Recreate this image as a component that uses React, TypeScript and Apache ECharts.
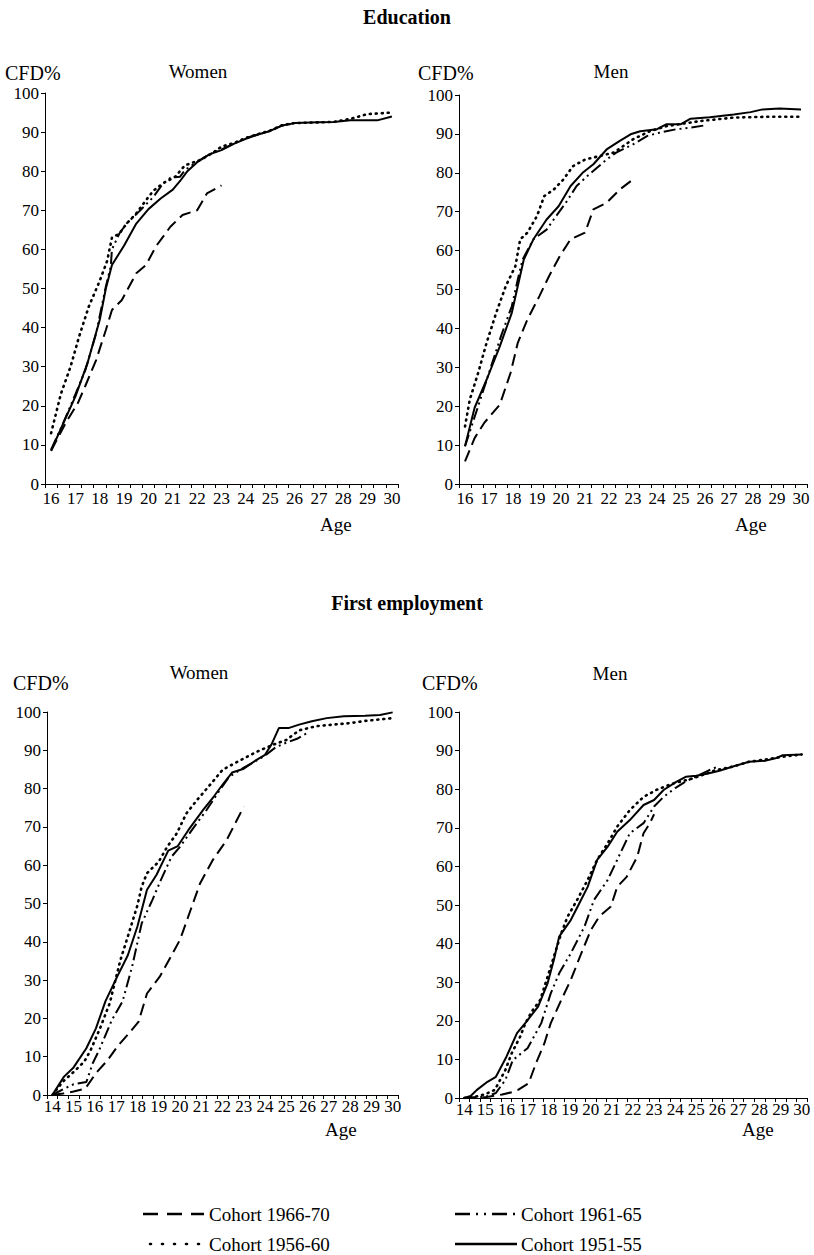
import React, { useEffect, useRef } from "react";
import * as echarts from "echarts";

type Pt = [number, number];

// Cohort names, in legend order
const COHORTS = ["Cohort 1966-70", "Cohort 1961-65", "Cohort 1956-60", "Cohort 1951-55"];

// Age ranges of the two x axes
const EDU_AGE_START = 16;
const EMP_AGE_START = 14;
const AGE_END = 30;

// Y axis (cumulative frequency distribution, %)
const Y_MIN = 0;
const Y_MAX = 100;
const Y_STEP = 10;

// ---- Education, women: [age, CFD %]
const eduWomen1966: Pt[] = [[16,8.5],[16.6,15.6],[17.1,20.7],[17.4,25],[17.85,31.7],[18.25,39.4],[18.5,44.5],[18.9,47],[19.5,53.9],[19.9,56],[20.3,60.7],[20.9,65.8],[21.4,68.8],[22,70],[22.4,74.3],[23,76.4]];
const eduWomen1961: Pt[] = [[16,8.8],[16.5,15.6],[17,23],[17.4,29],[17.85,38.5],[18.25,50.5],[18.45,55.6],[18.5,60],[18.8,64],[19.1,66.6],[19.6,69.6],[20.2,73.4],[20.6,76.9],[20.9,78.3],[21.3,78.6],[21.5,80.3],[22.1,82.8],[22.5,84.3],[23,85.6],[23.5,87],[24,88.5],[24.5,89.4],[25,90.3],[25.5,91.7],[26,92.2]];
const eduWomen1956: Pt[] = [[16,13],[16.4,23],[16.8,30],[17.15,37.7],[17.55,45.4],[18,52],[18.3,57],[18.5,63],[18.8,64],[19.1,66.6],[19.5,69.2],[19.9,72.6],[20.2,75],[20.6,76.9],[21.1,78.6],[21.5,81.5],[22.1,82.8],[22.6,84.5],[23,86.3],[23.5,87.2],[24,88.5],[24.5,89.5],[25,90.4],[25.5,91.8],[26,92.3],[27,92.5],[27.6,92.6],[28.3,93.4],[29,94.6],[30,95]];
const eduWomen1951: Pt[] = [[16,8.5],[16.5,15.5],[17,22.4],[17.5,31],[18,42],[18.25,50],[18.5,56],[19,61],[19.5,66.6],[20,70.3],[20.5,73],[21,75.3],[21.3,77.5],[21.6,80],[22,82.3],[22.5,84.3],[23,85.4],[23.5,87],[24,88.3],[24.5,89.4],[25,90.3],[25.5,91.7],[26,92.3],[27,92.5],[27.6,92.6],[28.3,93],[29.4,93],[30,94]];

// ---- Education, men
const eduMen1966: Pt[] = [[16,5.8],[16.4,11.8],[16.8,15.7],[17.45,20.4],[17.9,28.6],[18.2,36.3],[18.6,42.3],[19.1,48.3],[19.5,53.4],[19.95,58.6],[20.4,62.9],[21,64.6],[21.35,70.6],[21.9,72.3],[22.45,75.7],[23,78.3]];
const eduMen1961: Pt[] = [[16,9.7],[16.5,19.1],[17,28.6],[17.5,38],[17.95,45.7],[18.2,52.6],[18.4,57.7],[18.85,62.9],[19.4,65.4],[19.8,68.9],[20.2,72.3],[20.65,76.6],[21.1,79.2],[21.5,81.3],[21.9,83.4],[22.3,85.2],[23,87.3],[23.6,89.5],[24.1,90.3],[24.8,91.2],[25.4,91.6],[26,92.2]];
const eduMen1956: Pt[] = [[16,14.8],[16.2,21.7],[16.55,28.6],[16.9,36.3],[17.3,44],[17.7,50.9],[18.1,56],[18.3,62.9],[18.6,64.6],[19,68.9],[19.3,74],[19.7,75.7],[20.1,78.3],[20.5,81.7],[21,83.4],[21.6,84.3],[22.2,85.2],[23,88.6],[23.7,90.7],[24.4,92],[25.8,93.3],[27.2,94.2],[28.6,94.4],[30,94.4]];
const eduMen1951: Pt[] = [[16,9.7],[16.4,19.6],[16.9,26.8],[17.45,35.4],[17.95,44],[18.2,50.9],[18.45,57.7],[18.85,62.9],[19.4,68],[19.9,71.4],[20.4,76.6],[20.9,80],[21.35,82.2],[21.9,86],[22.45,88.2],[22.9,89.9],[23.3,90.7],[24,91.2],[24.4,92.5],[25,92.5],[25.4,93.9],[26.2,94.3],[27.2,95],[27.9,95.6],[28.4,96.3],[29.1,96.5],[30,96.3]];

// ---- First employment, women
const empWomen1966: Pt[] = [[14,0],[14.5,0.4],[15,0.9],[15.55,1.7],[16.05,5.7],[16.6,9.1],[17.05,12.6],[17.6,16.1],[18.05,19.1],[18.45,26.5],[19.05,30.9],[19.4,34.4],[20,40.5],[20.5,48.3],[20.95,55.3],[21.55,61.4],[22.2,66.6],[23,75.3]];
const empWomen1961: Pt[] = [[14,0],[14.5,1.5],[15,2.8],[15.6,3.4],[15.9,8.3],[16.2,11.7],[16.8,19.6],[17.3,24.4],[17.75,33.5],[18.2,44.8],[18.7,50.9],[19.1,56.1],[19.6,62.2],[20,64.8],[20.6,69.5],[21.25,74.4],[21.8,79],[22.3,83],[23,85.5],[23.5,87],[24,88.6],[24.5,90.8],[25,92],[25.5,93],[26,94.6]];
const empWomen1956: Pt[] = [[14,0],[14.5,3.5],[15,6],[15.5,8.7],[15.8,11.7],[16.25,17.5],[16.7,24],[17.2,35.2],[17.6,42.3],[18,49.5],[18.2,54.4],[18.45,57.9],[19,60.9],[19.4,64.8],[19.85,68.3],[20.3,73.5],[20.8,77],[21.6,82.2],[22,84.9],[22.7,87],[23.6,89.6],[24.4,91.5],[25,92.7],[25.6,95.2],[26.4,96.3],[27.2,96.7],[28,97.1],[28.75,97.7],[30,98.4]];
const empWomen1951: Pt[] = [[14,0],[14.55,4.8],[15,7.2],[15.6,12.2],[16.05,17.4],[16.5,24.5],[17.05,30.9],[17.55,36.5],[18,44],[18.45,53.6],[18.9,57.5],[19.45,63.8],[19.9,65],[20.4,69.2],[21.1,74.5],[21.6,78],[22,81],[22.45,84.2],[23,85.2],[23.6,87.5],[24,88.8],[24.3,91.5],[24.65,95.8],[25.1,95.8],[25.6,96.7],[26.2,97.6],[26.9,98.4],[27.7,98.9],[28.7,99],[29.4,99.2],[30,99.9]];

// ---- First employment, men
const empMen1966: Pt[] = [[14,0],[15,0.2],[15.8,0.9],[16.25,1.5],[16.55,2.1],[17.05,3.8],[17.4,9],[17.8,14.2],[18.1,19.4],[18.6,25.4],[19.05,30.6],[19.55,37.5],[20,43.5],[20.4,47],[20.95,49.6],[21.25,54.7],[21.7,57.3],[22.2,62.5],[22.5,68.6],[22.8,71.2],[23,73.5]];
const empMen1961: Pt[] = [[14,0],[15,0.3],[15.5,1.3],[15.95,4.7],[16.3,9.8],[17,12.9],[17.65,19.4],[18.1,27.1],[18.5,32.3],[19.05,37.5],[19.7,44.4],[20.15,51.3],[20.8,56.5],[21.25,61.7],[21.85,68.6],[22.5,71.2],[23,75.5],[23.45,78],[24,80.3],[24.5,82],[25.1,83.6],[25.6,84.9],[26,85.8]];
const empMen1956: Pt[] = [[14,0],[14.5,0.3],[15,1],[15.45,2.1],[15.95,7.3],[16.25,11.6],[16.65,15.9],[16.9,19.4],[17.2,22.4],[17.6,25.4],[17.95,31.4],[18.3,37.5],[18.6,42.7],[18.9,47],[19.35,51.3],[19.85,56.5],[20.3,61.7],[20.8,66],[21.25,70.3],[21.85,74.6],[22.5,78],[23.1,79.8],[23.9,81.5],[24.85,82.8],[25.9,84.9],[26.7,85.8],[27.5,87.1],[28.3,87.7],[29.1,88.4],[30,89]];
const empMen1951: Pt[] = [[14,0],[14.3,0.5],[14.6,2.1],[15.1,4.2],[15.5,5.5],[16,10.7],[16.5,16.8],[16.95,19.8],[17.5,23.7],[17.95,29.7],[18.25,35.8],[18.5,41.8],[19.05,46.1],[19.45,50.4],[19.85,54.7],[20.3,61.7],[20.8,65.1],[21.25,69],[21.85,72],[22.5,75.9],[23,77.2],[23.45,79.8],[24.05,81.9],[24.5,83.2],[25,83.5],[25.5,84],[26.1,84.8],[26.7,85.8],[27.5,87.1],[28.3,87.4],[28.75,88],[29.1,88.8],[30,89]];

const FONT = '"Liberation Serif", "Times New Roman", serif';
const INK = "#000";

// line pattern per cohort (same order as COHORTS)
const DASHES: (number[] | "solid")[] = [[12, 6], [12, 4, 2, 4, 2, 4], [1, 5], "solid"];
const WIDTHS = [2, 2, 2.6, 2];
const CAPS = ["butt", "butt", "round", "butt"];

type Panel = {
  start: number;
  labelMargin: number;
  grid: { left: number; top: number; width: number; height: number };
  series: Pt[][];
};

const PANELS: Panel[] = [
  { start: EDU_AGE_START, labelMargin: 6, grid: { left: 45, top: 93, width: 353, height: 391 }, series: [eduWomen1966, eduWomen1961, eduWomen1956, eduWomen1951] },
  { start: EDU_AGE_START, labelMargin: 6, grid: { left: 459, top: 95, width: 348, height: 389 }, series: [eduMen1966, eduMen1961, eduMen1956, eduMen1951] },
  { start: EMP_AGE_START, labelMargin: 3, grid: { left: 47, top: 712, width: 351, height: 383 }, series: [empWomen1966, empWomen1961, empWomen1956, empWomen1951] },
  { start: EMP_AGE_START, labelMargin: 3, grid: { left: 459, top: 712, width: 348, height: 386 }, series: [empMen1966, empMen1961, empMen1956, empMen1951] },
];

function halfYears(start: number): string[] {
  const out: string[] = [];
  for (let a = start; a <= AGE_END; a += 0.5) out.push(String(a));
  return out;
}

function text(x: number, y: number, t: string, size: number, align = "left", bold = false) {
  return {
    type: "text",
    x,
    y,
    style: {
      text: t,
      fill: INK,
      fontFamily: FONT,
      fontSize: size,
      fontWeight: bold ? "bold" : "normal",
      align,
      verticalAlign: "middle",
    },
  };
}

function legendLine(x1: number, x2: number, y: number, i: number) {
  const d = DASHES[i];
  return {
    type: "line",
    shape: { x1, y1: y, x2, y2: y },
    style: {
      stroke: INK,
      lineWidth: i === 2 ? 2.6 : 2.4,
      lineDash: d === "solid" ? null : i === 0 ? [15, 9] : i === 1 ? [15, 6, 2, 6, 2, 6] : [1, 11],
      lineCap: CAPS[i],
    },
  };
}

function buildOption() {
  const grid: any[] = [];
  const xAxis: any[] = [];
  const yAxis: any[] = [];
  const series: any[] = [];

  PANELS.forEach((p, gi) => {
    grid.push({ ...p.grid, containLabel: false });
    // visible axis: half-year categories, ticks between them, a label every year
    xAxis.push({
      type: "category",
      gridIndex: gi,
      data: halfYears(p.start),
      boundaryGap: true,
      axisLine: { show: true, lineStyle: { color: INK, width: 1 } },
      axisTick: { show: true, interval: 0, length: 4, alignWithLabel: false, lineStyle: { color: INK } },
      axisLabel: { interval: 1, color: INK, fontFamily: FONT, fontSize: 17, margin: p.labelMargin },
      splitLine: { show: false },
    });
    // numeric age scale used by the curves
    xAxis.push({
      type: "value",
      gridIndex: gi,
      min: p.start - 0.25,
      max: AGE_END + 0.25,
      show: false,
      splitLine: { show: false },
    });
    yAxis.push({
      type: "value",
      gridIndex: gi,
      min: Y_MIN,
      max: Y_MAX,
      interval: Y_STEP,
      axisLine: { show: true, lineStyle: { color: INK, width: 1 } },
      axisTick: { show: true, length: 4, lineStyle: { color: INK } },
      axisLabel: { color: INK, fontFamily: FONT, fontSize: 17, margin: 6 },
      splitLine: { show: false },
    });
    p.series.forEach((data, ci) => {
      series.push({
        type: "line",
        name: COHORTS[ci],
        xAxisIndex: gi * 2 + 1,
        yAxisIndex: gi,
        data,
        showSymbol: false,
        symbol: "none",
        lineStyle: { color: INK, width: WIDTHS[ci], type: DASHES[ci], cap: CAPS[ci] },
        z: 10 - ci,
      });
    });
  });

  const graphic: any[] = [
    text(407, 17, "Education", 20, "center", true),
    text(5, 73, "CFD%", 20),
    text(198, 71, "Women", 19, "center"),
    text(418, 73, "CFD%", 20),
    text(611, 71, "Men", 19, "center"),
    text(320, 524, "Age", 19),
    text(735, 524, "Age", 19),
    text(407, 603, "First employment", 20, "center", true),
    text(13, 683, "CFD%", 20),
    text(199, 672, "Women", 19, "center"),
    text(422, 683, "CFD%", 20),
    text(610, 673, "Men", 19, "center"),
    text(325, 1129, "Age", 19),
    text(742, 1129, "Age", 19),
    // legend
    legendLine(143, 204, 1214, 0),
    text(209, 1214, COHORTS[0], 19),
    legendLine(455, 517, 1214, 1),
    text(521, 1214, COHORTS[1], 19),
    legendLine(150, 204, 1244, 2),
    text(209, 1244, COHORTS[2], 19),
    legendLine(455, 517, 1244, 3),
    text(521, 1244, COHORTS[3], 19),
  ];

  return {
    animation: false,
    backgroundColor: "#fff",
    grid,
    xAxis,
    yAxis,
    series,
    graphic,
  };
}

export default function App() {
  const ref = useRef<HTMLDivElement>(null);
  useEffect(() => {
    document.body.style.margin = "0";
    if (!ref.current) return;
    const chart = echarts.init(ref.current, undefined, { renderer: "svg" });
    chart.setOption(buildOption() as any);
    return () => chart.dispose();
  }, []);
  return <div ref={ref} style={{ width: 814, height: 1255 }} />;
}
